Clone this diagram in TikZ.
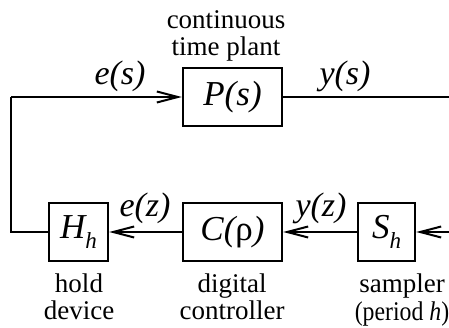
\documentclass[tikz,border=0pt]{standalone}
\usepackage{fontspec}
\setmainfont{Liberation Serif}
\usetikzlibrary{arrows.meta}
\newcommand{\sbh}{\raisebox{-0.3em}{\fontsize{23}{23}\selectfont\itshape h}}
\tikzset{
  blk/.style={draw, line width=2.4pt, inner sep=0pt},
  lbl/.style={font=\fontsize{27}{27.5}\selectfont, align=center, inner sep=0pt},
  sig/.style={font=\fontsize{34}{34}\selectfont\itshape, inner sep=0pt},
  wire/.style={line width=2pt},
  arr/.style={wire, -{Straight Barb[length=21pt,width=11pt,line width=2pt]}},
}
\begin{document}
\begin{tikzpicture}[x=1pt,y=-1pt]
\useasboundingbox (0,0) rectangle (449,328);
% boxes
\node[blk, minimum width=99pt, minimum height=58pt] (P) at (232.5,97) {\fontsize{35}{35}\selectfont\itshape P(s)};
\node[blk, minimum width=59pt, minimum height=58pt] (H) at (78.5,232) {\fontsize{35}{35}\selectfont\itshape H\sbh};
\node[blk, minimum width=99pt, minimum height=58pt] (C) at (232.5,232) {\fontsize{35}{35}\selectfont\itshape C(\upshape ρ\itshape)};
\node[blk, minimum width=57pt, minimum height=58pt] (S) at (386.5,232) {\fontsize{35}{35}\selectfont\itshape S\sbh};
% coordinates
\coordinate (tl) at (11,97);
\coordinate (bl) at (11,232);
\coordinate (tr) at (449,97);
\coordinate (br) at (449,232);
% wires
\draw[wire] (H.west) -- (bl) -- (tl);
\draw[arr] (tl) -- (P.west);
\draw[wire] (P.east) -- (tr);
\draw[arr] (br) -- (S.east);
\draw[arr] (S.west) -- (C.east);
\draw[arr] (C.west) -- (H.east);
% signal labels
\node[sig] (es) at (120,76) {e(s)};
\node[sig] (ys) at (345,76) {y(s)};
\node[sig] (ez) at (145,208) {e(z)};
\node[sig] (yz) at (321,208) {y(z)};
% descriptions
\node[lbl] (cp) at (226,36) {continuous\\time plant};
\node[lbl] (hd) at (79,297) {hold\\device};
\node[lbl] (dc) at (232,297) {digital\\controller};
\node[lbl] (sp) at (402,300) {sampler\\\scalebox{0.88}[1]{(period \textit{h})}};
\end{tikzpicture}
\end{document}
